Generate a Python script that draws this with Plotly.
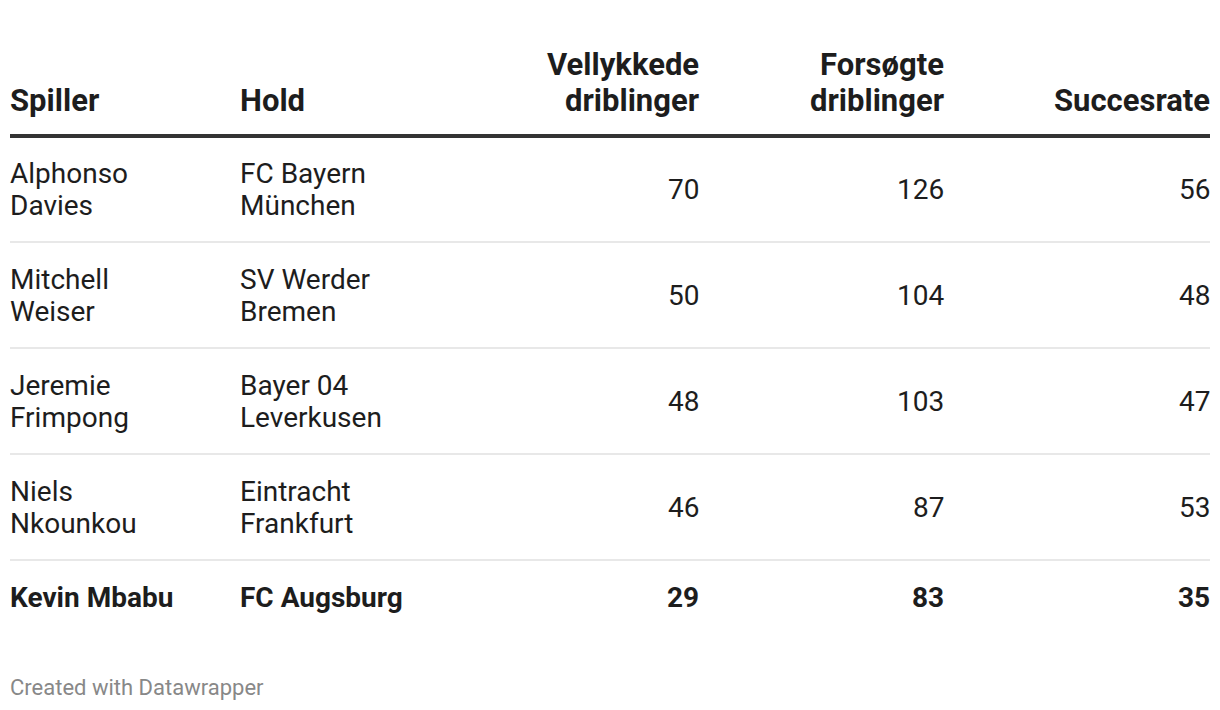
import plotly.graph_objects as go

# --- data ---
headers = ["Spiller", "Hold", "Vellykkede\ndriblinger", "Forsøgte\ndriblinger", "Succesrate"]
players = ["Alphonso\nDavies", "Mitchell\nWeiser", "Jeremie\nFrimpong", "Niels\nNkounkou", "Kevin Mbabu"]
teams = ["FC Bayern\nMünchen", "SV Werder\nBremen", "Bayer 04\nLeverkusen", "Eintracht\nFrankfurt", "FC Augsburg"]
successful = [70, 50, 48, 46, 29]
attempted = [126, 104, 103, 87, 83]
rate = [56, 48, 47, 53, 35]
bold_rows = [4]
footer = "Created with Datawrapper"

# --- layout constants (pixels) ---
W, H = 1220, 710
LEFT, RIGHT = 10, 1210
col_x = [10, 240, 699, 944, 1210]
col_align = ["left", "left", "right", "right", "right"]
header_base = 100      # centre of last header line
header_line_gap = 36
header_rule = 136
line_gap = 32
row_pad = 42
font = "Roboto, Arial, sans-serif"
dark = "#1d1d1d"

fig = go.Figure()
fig.add_trace(go.Scatter(x=[0, W], y=[0, H], mode="markers", marker=dict(opacity=0),
                         hoverinfo="skip", showlegend=False))


def add_cell(text, x, yc, align, bold, size=28, color=dark, gap=line_gap, bottom=False):
    lines = text.split("\n")
    n = len(lines)
    for k, ln in enumerate(lines):
        if bottom:
            y = yc - (n - 1 - k) * gap
        else:
            y = yc + (k - (n - 1) / 2) * gap
        fig.add_annotation(
            x=x, y=y, xref="x", yref="y", text=f"<b>{ln}</b>" if bold else ln,
            showarrow=False, xanchor=align, yanchor="middle", borderpad=0, borderwidth=0,
            font=dict(family=font, size=size, color=color),
        )


# header
for h, x, a in zip(headers, col_x, col_align):
    add_cell(h, x, header_base, a, True, size=31, gap=header_line_gap, bottom=True)

fig.add_shape(type="line", xref="x", yref="y", x0=LEFT, x1=RIGHT, y0=header_rule, y1=header_rule,
              line=dict(color="#333333", width=4))

# body rows
top = header_rule
for i in range(len(players)):
    n_lines = max(players[i].count("\n"), teams[i].count("\n")) + 1
    height = row_pad + line_gap * n_lines
    yc = top + height / 2
    bold = i in bold_rows
    cells = [players[i], teams[i], str(successful[i]), str(attempted[i]), str(rate[i])]
    for c, x, a in zip(cells, col_x, col_align):
        add_cell(c, x, yc, a, bold)
    top += height
    if i < len(players) - 1:
        fig.add_shape(type="line", xref="x", yref="y", x0=LEFT, x1=RIGHT, y0=top, y1=top,
                      line=dict(color="#e8e8e8", width=2))

fig.add_annotation(x=LEFT, y=687, xref="x", yref="y", text=footer, showarrow=False,
                   xanchor="left", yanchor="middle", borderpad=0, borderwidth=0,
                   font=dict(family=font, size=22, color="#888888"))

fig.update_layout(
    width=W, height=H, margin=dict(l=0, r=0, t=0, b=0),
    paper_bgcolor="white", plot_bgcolor="white",
    xaxis=dict(range=[0, W], visible=False, fixedrange=True),
    yaxis=dict(range=[H, 0], visible=False, fixedrange=True),
    showlegend=False,
)

fig.write_html("out.html", config={"displayModeBar": False},
               post_script="document.body.style.margin='0';document.body.style.overflow='hidden';")
